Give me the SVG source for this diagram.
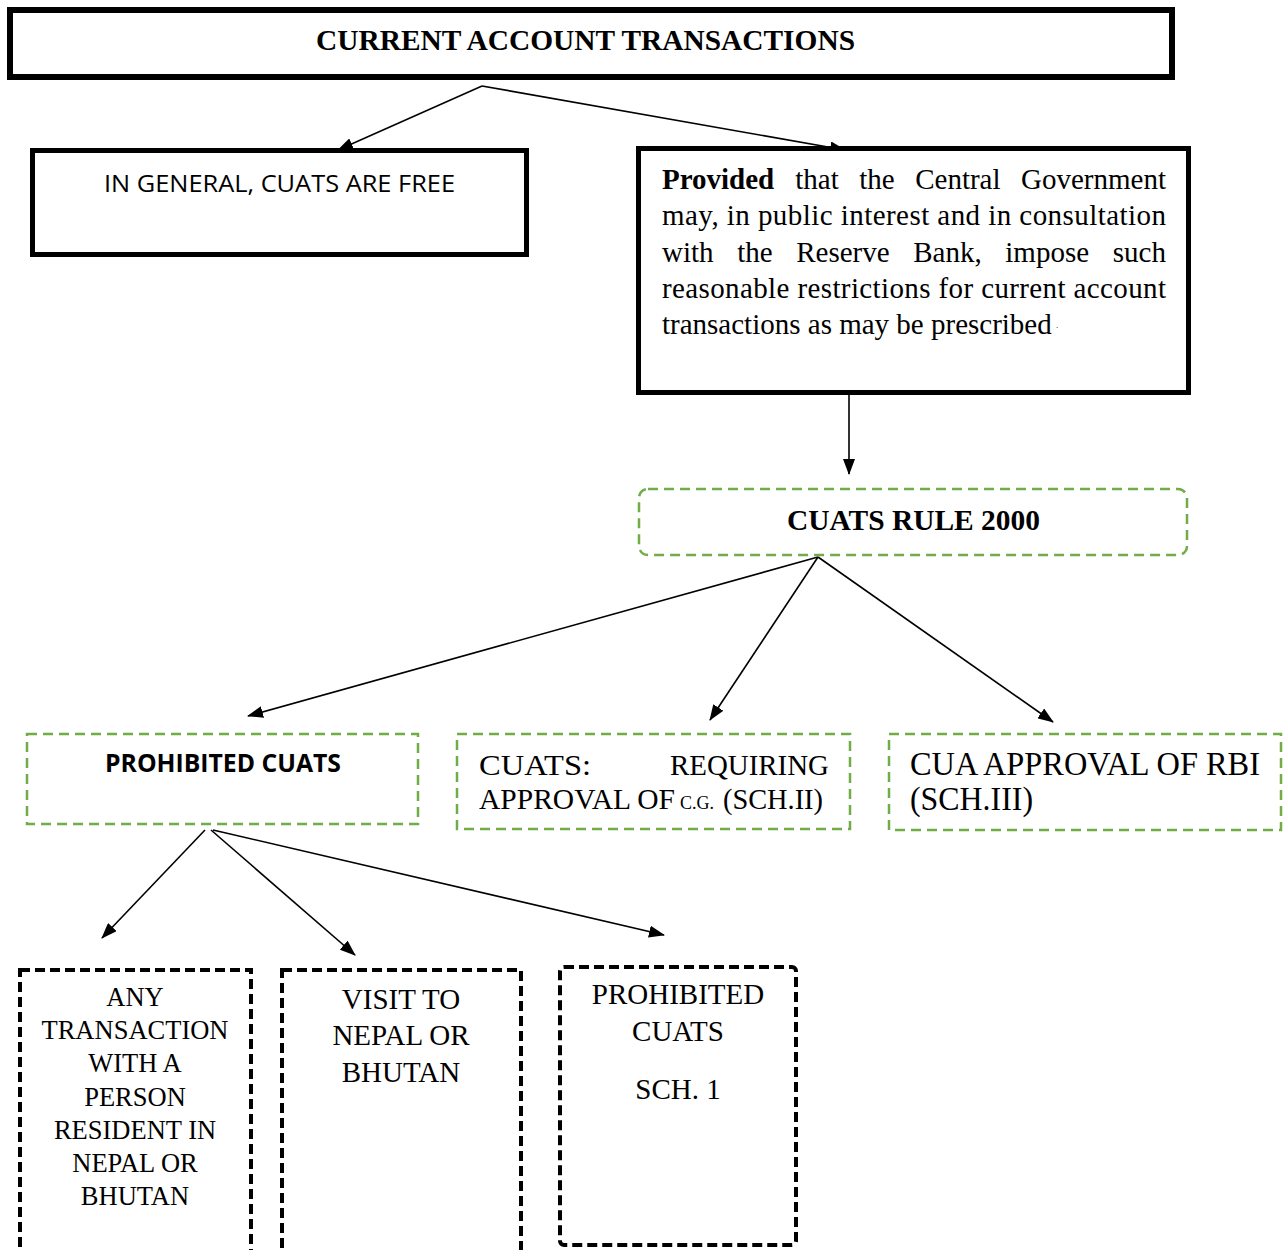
<svg xmlns="http://www.w3.org/2000/svg" width="1286" height="1250" viewBox="0 0 1286 1250">
  <style>
    .serif { font-family: "Liberation Serif", "Times New Roman", serif; fill: #000; }
    .sans { font-family: "Open Sans", "Liberation Sans", sans-serif; fill: #000; }
    .solid { fill: #fff; stroke: #000; }
    .green { fill: #fff; stroke: #70AD47; stroke-width: 2.5; stroke-dasharray: 10 6; }
    .dash { fill: #fff; stroke: #000; stroke-width: 4; stroke-dasharray: 10 5; }
    .conn { stroke: #000; stroke-width: 1.6; fill: none; marker-end: url(#arrow); }
  </style>
  <defs>
    <marker id="arrow" markerUnits="userSpaceOnUse" markerWidth="16" markerHeight="12" refX="15" refY="6" orient="auto">
      <path d="M0,0 L16,6 L0,12 z" fill="#000"/>
    </marker>
  </defs>
  <rect width="1286" height="1250" fill="#fff"/>

  <!-- connectors -->
  <g id="connectors">
    <line class="conn" x1="482" y1="86" x2="338" y2="150"/>
    <line class="conn" x1="482" y1="86" x2="845" y2="150"/>
    <line class="conn" x1="849" y1="395" x2="849" y2="474"/>
    <line class="conn" x1="818" y1="557" x2="248" y2="716"/>
    <line class="conn" x1="818" y1="557" x2="710" y2="720"/>
    <line class="conn" x1="818" y1="557" x2="1053" y2="722"/>
    <line class="conn" x1="205" y1="830" x2="102" y2="938"/>
    <line class="conn" x1="211" y1="830" x2="355" y2="955"/>
    <line class="conn" x1="213" y1="830" x2="664" y2="935"/>
  </g>

  <!-- top heading -->
  <g id="current-account-transactions">
    <rect class="solid" x="10" y="10" width="1162" height="67" stroke-width="6"/>
    <text class="serif" x="316" y="50" font-size="30" font-weight="bold" textLength="539" lengthAdjust="spacingAndGlyphs">CURRENT ACCOUNT TRANSACTIONS</text>
  </g>

  <g id="cuats-free">
    <rect class="solid" x="32.5" y="150.5" width="494" height="104" stroke-width="5"/>
    <text class="sans" x="104" y="192" font-size="24" textLength="351" lengthAdjust="spacingAndGlyphs">IN GENERAL, CUATS ARE FREE</text>
  </g>

  <!-- justified paragraph: words placed one by one on the short lines -->
  <g id="proviso" class="serif" font-size="29">
    <rect class="solid" x="638.5" y="148.5" width="550" height="244" stroke-width="5"/>
    <text y="189"><tspan x="662" font-weight="bold">Provided</tspan><tspan x="795.3">that</tspan><tspan x="859.3">the</tspan><tspan x="915.2">Central</tspan><tspan x="1166" text-anchor="end">Government</tspan></text>
    <text x="662" y="225" textLength="504" lengthAdjust="spacing">may, in public interest and in consultation</text>
    <text y="262"><tspan x="662">with</tspan><tspan x="737.2">the</tspan><tspan x="796.2">Reserve</tspan><tspan x="913.2">Bank,</tspan><tspan x="1005.3">impose</tspan><tspan x="1166" text-anchor="end">such</tspan></text>
    <text x="662" y="298" textLength="504" lengthAdjust="spacing">reasonable restrictions for current account</text>
    <text x="662" y="334">transactions as may be prescribed</text>
    <text x="1056" y="328" font-size="9">.</text>
  </g>

  <g id="cuats-rule-2000">
    <rect class="green" x="639" y="489" width="548" height="66" rx="9"/>
    <text class="serif" x="787" y="530" font-size="29" font-weight="bold" textLength="253" lengthAdjust="spacingAndGlyphs">CUATS RULE 2000</text>
  </g>

  <g id="prohibited-cuats">
    <rect class="green" x="27" y="734" width="391" height="90"/>
    <text class="sans" x="105" y="772" font-size="25" font-weight="bold" textLength="236" lengthAdjust="spacingAndGlyphs">PROHIBITED CUATS</text>
  </g>

  <g id="approval-cg" class="serif" font-size="30">
    <rect class="green" x="457" y="734" width="393" height="95"/>
    <text x="479" y="775" textLength="112" lengthAdjust="spacingAndGlyphs">CUATS:</text>
    <text x="670" y="775" textLength="159" lengthAdjust="spacingAndGlyphs">REQUIRING</text>
    <text x="479" y="809" textLength="196" lengthAdjust="spacingAndGlyphs">APPROVAL OF</text>
    <text x="680" y="809" font-size="18">C.G.</text>
    <text x="723" y="809" textLength="100" lengthAdjust="spacingAndGlyphs">(SCH.II)</text>
  </g>

  <g id="approval-rbi">
    <rect class="green" x="889" y="734" width="392" height="96"/>
    <text class="serif" x="910" y="775" font-size="33" textLength="350" lengthAdjust="spacingAndGlyphs">CUA APPROVAL OF RBI</text>
    <text class="serif" x="910" y="810" font-size="33" textLength="123" lengthAdjust="spacingAndGlyphs">(SCH.III)</text>
  </g>

  <g id="nepal-bhutan-resident" class="serif" font-size="26.5" text-anchor="middle">
    <rect class="dash" x="20" y="970" width="231" height="290"/>
    <text x="135" y="1006">ANY</text>
    <text x="135" y="1039">TRANSACTION</text>
    <text x="135" y="1072">WITH A</text>
    <text x="135" y="1106">PERSON</text>
    <text x="135" y="1139">RESIDENT IN</text>
    <text x="135" y="1172">NEPAL OR</text>
    <text x="135" y="1205">BHUTAN</text>
  </g>

  <g id="visit-nepal-bhutan" class="serif" font-size="29" text-anchor="middle">
    <rect class="dash" x="282" y="970" width="239" height="290"/>
    <text x="401" y="1009">VISIT TO</text>
    <text x="401" y="1045">NEPAL OR</text>
    <text x="401" y="1082">BHUTAN</text>
  </g>

  <g id="schedule-1" class="serif" font-size="29" text-anchor="middle">
    <rect class="dash" x="560" y="967" width="236" height="278" rx="4"/>
    <text x="678" y="1004">PROHIBITED</text>
    <text x="678" y="1041">CUATS</text>
    <text x="678" y="1099">SCH. 1</text>
  </g>
</svg>
